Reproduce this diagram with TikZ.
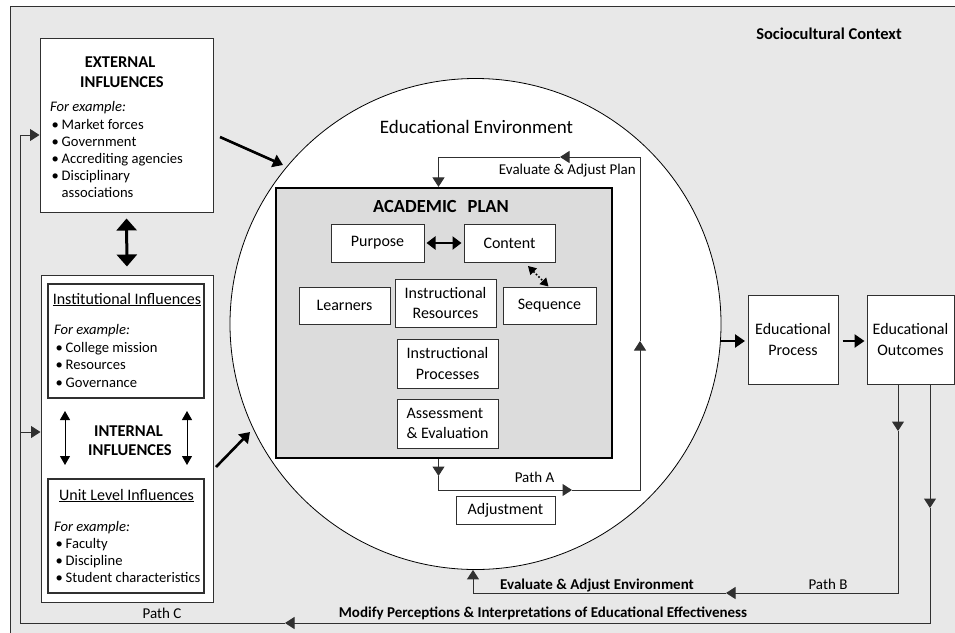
\documentclass[tikz,border=0pt]{standalone}
\usepackage{fontspec}
\setmainfont{Carlito}
\usetikzlibrary{arrows.meta}
\definecolor{ctxgray}{HTML}{E8E8E8}
\definecolor{plangray}{HTML}{DCDCDC}
\definecolor{linegray}{HTML}{303030}
\newcommand{\blt}{\makebox[10pt][l]{•}}
\newcommand{\bltsp}{\makebox[10pt][l]{}}
\begin{document}
\begin{tikzpicture}[x=1pt,y=-1pt,
  every node/.style={font=\fontsize{14.6}{17.2}\selectfont, inner sep=0pt, text=black},
  box/.style={draw=linegray, line width=1pt, fill=white, align=center, font=\fontsize{16}{20.5}\selectfont},
  ibox/.style={draw=linegray, line width=1.4pt, fill=white},
  txt/.style={anchor=base west},
  ctxt/.style={anchor=base},
  head/.style={anchor=base, font=\bfseries\fontsize{16.5}{20}\selectfont},
  sub/.style={anchor=base, font=\fontsize{16}{20}\selectfont},
  pathlbl/.style={font=\fontsize{15}{18}\selectfont},
  boldlbl/.style={font=\bfseries\fontsize{15}{18}\selectfont},
  thin/.style={draw=linegray, line width=1pt},
  midtip/.style={-{Triangle[length=9.5pt,width=12pt]}},
  bigtip/.style={draw=black, line width=2.6pt, -{Triangle[length=10pt,width=13pt]}},
  bigdbl/.style={draw=black, line width=3pt, {Triangle[length=12pt,width=20pt]}-{Triangle[length=12pt,width=20pt]}},
  meddbl/.style={draw=black, line width=2.4pt, {Triangle[length=9pt,width=13pt]}-{Triangle[length=9pt,width=13pt]}},
  thindbl/.style={draw=black, line width=1pt, {Triangle[length=9pt,width=10pt]}-{Triangle[length=9pt,width=10pt]}},
]
\useasboundingbox (0,0) rectangle (955,632);
\clip (0,0) rectangle (955,632);
% context frame
\draw[fill=ctxgray, draw=linegray, line width=1pt] (10,6) rectangle (970,650);
\node[head] (ctx) at (829,39.5) {Sociocultural Context};

% educational environment circle
\node[circle, draw=black, line width=0.8pt, fill=white, minimum size=491pt] (env) at (475.5,324) {};
\node[font=\fontsize{19}{22}\selectfont, ctxt] (envlbl) at (476.5,133) {Educational Environment};

% academic plan
\node[draw=black, line width=2.2pt, fill=plangray, minimum width=336pt, minimum height=270pt] (plan) at (444,323) {};
\node[font=\bfseries\fontsize{18.5}{22}\selectfont, ctxt] (planlbl) at (441,212) {ACADEMIC\hspace{11pt}PLAN};
\node[box, minimum width=93pt, minimum height=38pt] (purpose) at (377.5,243) {Purpose};
\node[box, minimum width=91pt, minimum height=38pt] (content) at (509.5,243) {Content};
\node[box, minimum width=91pt, minimum height=37pt] (learners) at (344.5,305.5) {Learners};
\node[box, minimum width=101pt, minimum height=48pt] (instres) at (445.5,303) {Instructional\\Resources};
\node[box, minimum width=93pt, minimum height=37pt] (sequence) at (549.5,305.5) {Sequence};
\node[box, minimum width=101pt, minimum height=49pt] (instproc) at (447.5,363.5) {Instructional\\Processes};
\node[box, align=left, minimum width=101pt, minimum height=49pt] (assess) at (447.5,423.5) {Assessment\\\& Evaluation};
\node[box, minimum width=99pt, minimum height=28pt] (adjust) at (505.5,510) {Adjustment};

\draw[meddbl, shorten <=2pt, shorten >=2pt] (purpose.east) -- (content.west);
\coordinate (d1) at (528,266);
\coordinate (d2) at (548.5,286.5);
\draw[draw=black, line width=1.6pt, dotted, {Triangle[length=8pt,width=9pt]}-{Triangle[length=8pt,width=9pt]}] (d1) -- (d2);

% plan loop (Evaluate & Adjust Plan / Path A)
\coordinate (tl) at (438.5,157);
\coordinate (tr) at (640,157);
\coordinate (br) at (640,490);
\coordinate (bl) at (438.5,490);
\coordinate (tarr) at (560,157);
\coordinate (adown) at (438.5,476);
\coordinate (aright) at (572,490);
\coordinate (aup) at (640,341);
\draw[thin, midtip] (tl) -- (tl |- plan.north);
\draw[thin] (tl) -- (tarr);
\draw[thin, midtip] (tr) -- (tarr);
\draw[thin, midtip] (tl |- plan.south) -- (adown);
\draw[thin, midtip] (adown) -- (bl) -- (aright);
\draw[thin, midtip] (aright) -- (br) -- (aup);
\draw[thin] (aup) -- (tr);
\node[pathlbl, anchor=base east] (evplan) at (636,174) {Evaluate \& Adjust Plan};
\node[pathlbl, ctxt] (patha) at (534.5,482.5) {Path A};

% process and outcomes
\node[box, minimum width=90pt, minimum height=89pt] (process) at (793,339.5) {Educational\\Process};
\node[box, minimum width=87pt, minimum height=89pt] (outcomes) at (910.5,339.5) {Educational\\Outcomes};
\coordinate (envr) at (721,341);
\draw[bigtip, shorten >=2.5pt] (envr) -- (process.west |- envr);
\draw[bigtip, shorten <=4pt, shorten >=2pt] (process.east |- envr) -- (outcomes.west |- envr);

% Path B
\coordinate (b0) at (898,384);
\coordinate (b1) at (898,431);
\coordinate (b2) at (898,593);
\coordinate (b3) at (726,593);
\coordinate (b4) at (473,593);
\draw[thin, midtip] (b0) -- (b1);
\draw[thin, midtip] (b1) -- (b2) -- (b3);
\draw[thin, midtip] (b3) -- (b4) -- (b4 |- env.south);
\node[boldlbl, ctxt] (evenv) at (597,589.3) {Evaluate \& Adjust Environment};
\node[pathlbl, ctxt] (pathb) at (828,589.3) {Path B};

% Path C
\coordinate (c0) at (930,384);
\coordinate (c1) at (930,508);
\coordinate (c2) at (930,623);
\coordinate (c3) at (285,623);
\coordinate (c4) at (20,623);
\coordinate (c5) at (20,135);
\coordinate (c6) at (20,432);
\draw[thin, midtip] (c0) -- (c1);
\draw[thin, midtip] (c1) -- (c2) -- (c3);
\draw[thin] (c3) -- (c4) -- (c5);
\node[boldlbl, anchor=base] (modify) at (543,617.5) {Modify Perceptions \& Interpretations of Educational Effectiveness};
\node[pathlbl, ctxt] (pathc) at (162,618.3) {Path C};

% external influences
\node[draw=linegray, line width=1pt, fill=white, minimum width=173pt, minimum height=174pt] (ext) at (126.5,125) {};
\node[head] (ext1) at (120,67) {EXTERNAL};
\node[head] (ext2) at (122,87) {INFLUENCES};
\node[txt] (extfe) at (50,111.8) {\itshape For example:};
\node[txt] (exta) at (51.5,129) {\blt Market forces};
\node[txt] (extb) at (51.5,146.2) {\blt Government};
\node[txt] (extc) at (51.5,163.4) {\blt Accrediting agencies};
\node[txt] (extd) at (51.5,180.6) {\blt Disciplinary};
\node[txt] (exte) at (51.5,197.8) {\bltsp associations};
\draw[thin, midtip] (c5) -- (ext.west |- c5);

% internal influences
\node[draw=linegray, line width=1pt, fill=white, minimum width=172pt, minimum height=327pt] (int) at (127,438.5) {};
\draw[thin, midtip] (c6) -- (int.west |- c6);
\draw[bigdbl, shorten <=6pt, shorten >=8pt] (ext.south) -- (int.north);
\node[ibox, minimum width=156pt, minimum height=114pt] (inst) at (126,341) {};
\node[sub] (insth) at (127,304) {\underline{Institutional Influences}};
\node[txt] (instfe) at (54,334.5) {\itshape For example:};
\node[txt] (insta) at (55.5,352) {\blt College mission};
\node[txt] (instb) at (55.5,369.5) {\blt Resources};
\node[txt] (instc) at (55.5,387) {\blt Governance};
\node[head] (int1) at (128.5,436) {INTERNAL};
\node[head] (int2) at (130,455) {INFLUENCES};
\node[ibox, minimum width=156pt, minimum height=114pt] (unit) at (126,536) {};
\node[sub] (unith) at (126.5,500) {\underline{Unit Level Influences}};
\node[txt] (unitfe) at (54,531.5) {\itshape For example:};
\node[txt] (unita) at (55.5,548) {\blt Faculty};
\node[txt] (unitb) at (55.5,565) {\blt Discipline};
\node[txt] (unitc) at (55.5,582) {\blt Student characteristics};
\coordinate (ia1) at (65,411);
\coordinate (ia2) at (65,465);
\coordinate (ib1) at (187,411);
\coordinate (ib2) at (187,465);
\draw[thindbl] (ia1) -- (ia2);
\draw[thindbl] (ib1) -- (ib2);

% influences into environment
\coordinate (e1) at (220,137);
\coordinate (e2) at (283,165);
\coordinate (i1) at (216,467);
\coordinate (i2) at (250,432);
\draw[bigtip] (e1) -- (e2);
\draw[bigtip] (i1) -- (i2);
\end{tikzpicture}
\end{document}
